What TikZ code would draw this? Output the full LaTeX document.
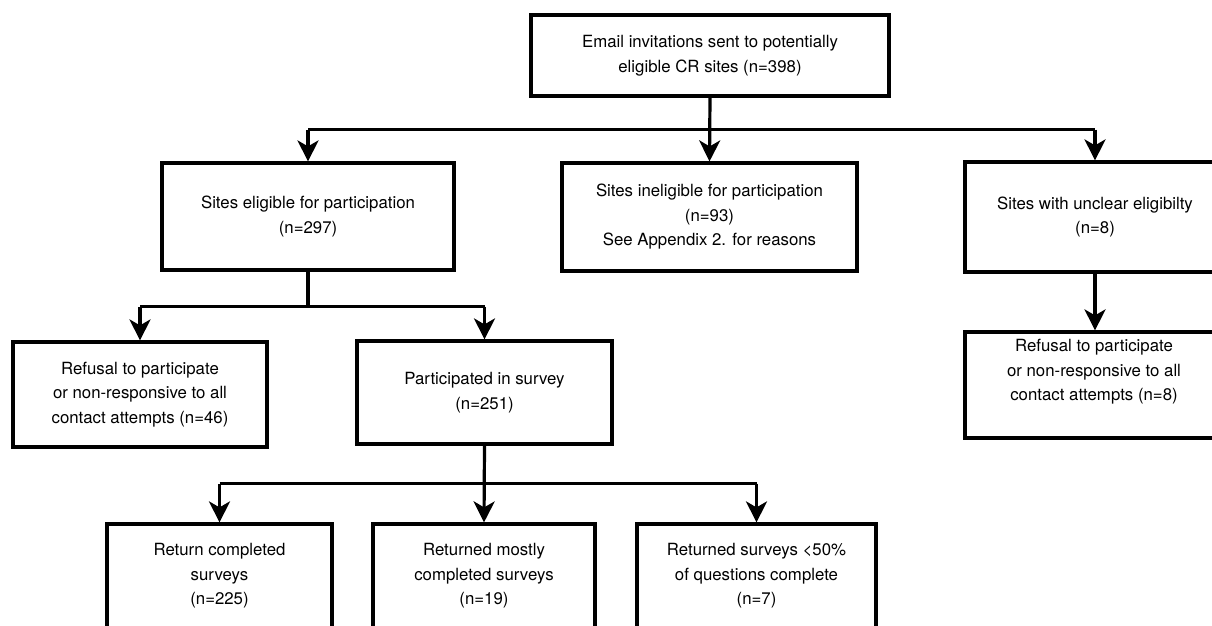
\documentclass[tikz,border=0pt]{standalone}
\usepackage{fontspec}
\setmainfont{TeX Gyre Heros}
\usetikzlibrary{arrows.meta}
\begin{document}
\begin{tikzpicture}[x=1pt,y=-1pt,
  box/.style={draw=black, line width=3.2pt, rectangle, inner sep=0pt, align=center,
    font=\fontsize{16.8}{24.5}\selectfont},
  txt/.style={inner sep=0pt, align=center, font=\fontsize{16.8}{24.5}\selectfont},
  conn/.style={line width=3.2pt},
  arr/.style={line width=3.2pt, -{Stealth[length=21pt,width=21pt,inset=6pt]}}]
\clip (0,0) rectangle (1212,625);
\fill[white] (0,0) rectangle (1212,625);
% boxes
\node[box, minimum width=358pt, minimum height=81pt] (top) at (710,55.5)
  {Email invitations sent to potentially\\eligible CR sites (n=398)};
\node[box, minimum width=292pt, minimum height=107pt] (elig) at (308,216.5)
  {Sites eligible for participation\\(n=297)};
\node[box, minimum width=295pt, minimum height=108pt] (inel) at (709.5,217)
  {Sites ineligible for participation\\(n=93)\\See Appendix 2. for reasons};
\node[box, minimum width=260pt, minimum height=110pt] (uncl) at (1095,217)
  {Sites with unclear eligibilty\\(n=8)};
\node[box, minimum width=254pt, minimum height=105pt] (ref1) at (140,394.5)
  {Refusal to participate\\or non-responsive to all\\contact attempts (n=46)};
\node[box, minimum width=255pt, minimum height=103pt] (part) at (484.5,392.5)
  {Participated in survey\\(n=251)};
\node[box, minimum width=260pt, minimum height=106pt] (ref2) at (1095,385) {};
\node[txt] (ref2t) at (1094,372)
  {Refusal to participate\\or non-responsive to all\\contact attempts (n=8)};
\node[box, minimum width=225pt, minimum height=104pt] (b1) at (219.5,576)
  {Return completed\\surveys\\(n=225)};
\node[box, minimum width=222pt, minimum height=104pt] (b2) at (484,576)
  {Returned mostly\\completed surveys\\(n=19)};
\node[box, minimum width=239pt, minimum height=104pt] (b3) at (756.5,576)
  {Returned surveys \textless 50\%\\of questions complete\\(n=7)};
% junction levels
\coordinate (h1) at (0,129.5);
\coordinate (h2) at (0,306.5);
\coordinate (h3) at (0,483.5);
% connectors level 1
\draw[arr] (top.south) -- (inel.north);
\draw[conn] (elig.north |- h1) -- (uncl.north |- h1);
\draw[arr] (elig.north |- h1) -- (elig.north);
\draw[arr] (uncl.north |- h1) -- (uncl.north);
% level 2
\draw[conn] (elig.south) -- (elig.south |- h2);
\draw[conn] (ref1.north |- h2) -- (part.north |- h2);
\draw[arr] (ref1.north |- h2) -- (ref1.north);
\draw[arr] (part.north |- h2) -- (part.north);
\draw[arr] (uncl.south) -- (ref2.north);
% level 3
\draw[arr] (part.south) -- (b2.north);
\draw[conn] (b1.north |- h3) -- (b3.north |- h3);
\draw[arr] (b1.north |- h3) -- (b1.north);
\draw[arr] (b3.north |- h3) -- (b3.north);
\end{tikzpicture}
\end{document}
